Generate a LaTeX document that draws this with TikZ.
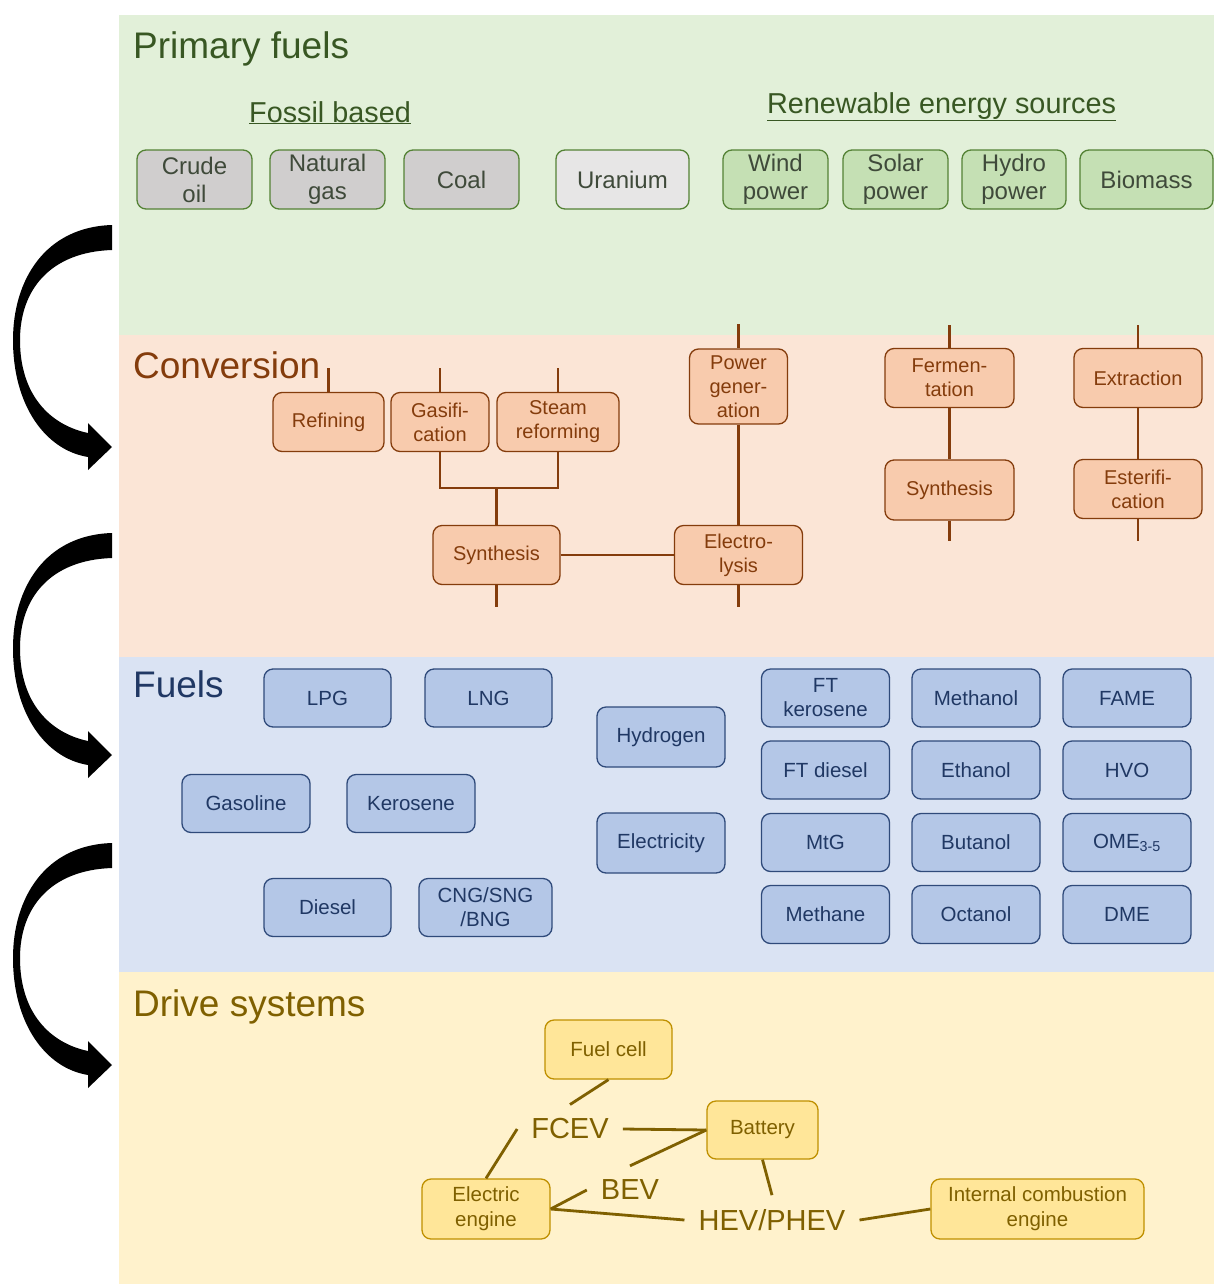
\documentclass[tikz,border=0pt]{standalone}
\usepackage{fontspec}
\setmainfont{Liberation Sans}
\definecolor{pfband}{HTML}{E2F0D9}
\definecolor{cvband}{HTML}{FBE5D6}
\definecolor{fuband}{HTML}{DAE3F3}
\definecolor{dsband}{HTML}{FFF2CC}
\definecolor{pfdark}{HTML}{385723}
\definecolor{pftext}{HTML}{3F4A3A}
\definecolor{pfline}{HTML}{548235}
\definecolor{pfgreen}{HTML}{C5E0B4}
\definecolor{pfgrey}{HTML}{D0CECE}
\definecolor{pflight}{HTML}{E7E6E6}
\definecolor{cvdark}{HTML}{843C0C}
\definecolor{cvfill}{HTML}{F8CBAD}
\definecolor{fudark}{HTML}{203864}
\definecolor{fuline}{HTML}{2F4A7A}
\definecolor{fufill}{HTML}{B4C7E7}
\definecolor{dsdark}{HTML}{7F6000}
\definecolor{dsline}{HTML}{BF9000}
\definecolor{dsfill}{HTML}{FFE699}
\tikzset{
  box/.style={draw, rounded corners=9, line width=1.3, align=center, inner sep=0},
  primbox/.style={box, draw=pfline, text=pftext, minimum height=59, font=\fontsize{24}{28}\selectfont},
  convbox/.style={box, draw=cvdark, fill=cvfill, text=cvdark, minimum height=59, font=\fontsize{20}{24}\selectfont},
  fuelbox/.style={box, draw=fuline, fill=fufill, text=fudark, minimum height=58, font=\fontsize{20.5}{24}\selectfont},
  drivebox/.style={box, draw=dsline, fill=dsfill, text=dsdark, minimum height=59, font=\fontsize{20.5}{25}\selectfont},
  title/.style={anchor=base west, inner sep=0, font=\fontsize{37}{44}\selectfont},
  subhead/.style={anchor=base, inner sep=0, text=pfdark, font=\fontsize{28.8}{34}\selectfont},
  vehicle/.style={inner sep=14, text=dsdark, font=\fontsize{29}{34}\selectfont},
  convline/.style={draw=cvdark, line width=2.8},
  driveline/.style={draw=dsdark, line width=2.8}
}

\begin{document}
\begin{tikzpicture}[x=1pt, y=-1pt]
  \useasboundingbox (0,0) rectangle (1214,1286);
  % bands
  \fill[pfband] (119,15) rectangle (1214,335);
  \fill[cvband] (119,335) rectangle (1214,657);
  \fill[fuband] (119,657) rectangle (1214,972);
  \fill[dsband] (119,972) rectangle (1214,1284);
  % big arrows on the left
  \foreach \y in {225,533,843}
    \fill[black, shift={(0,\y)}] (112,0) .. controls (45,2) and (13,55) .. (13,115)
      .. controls (13,180) and (45,225) .. (88,232) -- (88,245) -- (112,222) -- (88,198) -- (88,208)
      .. controls (50,200) and (20,170) .. (20,115) .. controls (20,65) and (50,27) .. (112,25) -- cycle;

  % primary fuels
  \node[title, text=pfdark] (primtitle) at (133,58) {Primary fuels};
  \node[subhead] (fossil) at (330,122) {\underline{Fossil based}};
  \node[subhead] (renew) at (941.5,113) {\underline{Renewable energy sources}};
  \foreach \name/\x/\w/\fc/\txt in {crude/194.5/115/pfgrey/{Crude\\oil}, natgas/327.5/115/pfgrey/{Natural\\gas},
      coal/461.5/115/pfgrey/Coal, uranium/622.5/133/pflight/Uranium, wind/775.5/105/pfgreen/{Wind\\power},
      solar/895.5/105/pfgreen/{Solar\\power}, hydro/1014/104/pfgreen/{Hydro\\power}, biomass/1146.5/133/pfgreen/Biomass}
    \node[primbox, fill=\fc, minimum width=\w] (\name) at (\x,179.5) {\txt};

  % conversion
  \node[title, text=cvdark] (convtitle) at (133,378) {Conversion};
  \node[convbox, minimum width=111] (refining) at (328.5,422) {Refining};
  \node[convbox, minimum width=98] (gasif) at (440,422) {Gasifi-\\cation};
  \node[convbox, minimum width=122] (steam) at (558,422) {Steam\\reforming};
  \node[convbox, minimum width=98, minimum height=75] (powergen) at (738.5,386.5) {Power\\gener-\\ation};
  \node[convbox, minimum width=127] (synthA) at (496.5,555) {Synthesis};
  \node[convbox, minimum width=128] (electro) at (738.5,555) {Electro-\\lysis};
  \node[convbox, minimum width=129] (ferment) at (949.5,378) {Fermen-\\tation};
  \node[convbox, minimum width=129, minimum height=60] (synthB) at (949.5,490) {Synthesis};
  \node[convbox, minimum width=128] (extract) at (1138,378) {Extraction};
  \node[convbox, minimum width=128] (ester) at (1138,489) {Esterifi-\\cation};
  \coordinate (refinin) at (328.5,368);
  \coordinate (gasifin) at (440,368);
  \coordinate (steamin) at (558,368);
  \coordinate (powergenin) at (738.5,324);
  \coordinate (fermentin) at (949.5,325);
  \coordinate (extractin) at (1138,325);
  \coordinate (join) at (496.5,488);
  \coordinate (synthAout) at (496.5,607);
  \coordinate (electroout) at (738.5,607);
  \coordinate (synthBout) at (949.5,541);
  \coordinate (esterout) at (1138,541);
  \draw[convline] (refinin) -- (refining);
  \draw[convline] (gasifin) -- (gasif);
  \draw[convline] (steamin) -- (steam);
  \draw[convline] (powergenin) -- (powergen);
  \draw[convline] (fermentin) -- (ferment);
  \draw[convline] (extractin) -- (extract);
  \draw[convline] (gasif.south) |- (join) -| (steam.south);
  \draw[convline] (join) -- (synthA);
  \draw[convline] (synthA) -- (electro);
  \draw[convline] (powergen) -- (electro);
  \draw[convline] (synthA) -- (synthAout);
  \draw[convline] (electro) -- (electroout);
  \draw[convline] (ferment) -- (synthB);
  \draw[convline] (synthB) -- (synthBout);
  \draw[convline] (extract) -- (ester);
  \draw[convline] (ester) -- (esterout);

  % fuels
  \node[title, text=fudark] (fueltitle) at (133,697) {Fuels};
  \node[fuelbox, minimum width=127] (lpg) at (327.5,698) {LPG};
  \node[fuelbox, minimum width=127] (lng) at (488.5,698) {LNG};
  \node[fuelbox, minimum width=128] (gasoline) at (246,803.5) {Gasoline};
  \node[fuelbox, minimum width=128] (kerosene) at (411,803.5) {Kerosene};
  \node[fuelbox, minimum width=127] (diesel) at (327.5,907.5) {Diesel};
  \node[fuelbox, minimum width=133] (cng) at (485.5,907.5) {CNG/SNG\\/BNG};
  \node[fuelbox, minimum width=128, minimum height=60] (hydrogen) at (661,737) {Hydrogen};
  \node[fuelbox, minimum width=128, minimum height=60] (electricity) at (661,843) {Electricity};
  \foreach \name/\x/\y/\txt in {ftker/825.5/698/{FT\\kerosene}, ftdiesel/825.5/770/FT diesel,
      mtg/825.5/842.5/MtG, methane/825.5/914.5/Methane,
      methanol/976/698/Methanol, ethanol/976/770/Ethanol, butanol/976/842.5/Butanol, octanol/976/914.5/Octanol,
      fame/1127/698/FAME, hvo/1127/770/HVO, ome/1127/842.5/{OME\textsubscript{3-5}}, dme/1127/914.5/DME}
    \node[fuelbox, minimum width=128] (\name) at (\x,\y) {\txt};

  % drive systems
  \node[title, text=dsdark] (drivetitle) at (133,1016) {Drive systems};
  \node[drivebox, minimum width=127] (fuelcell) at (608.5,1049.5) {Fuel cell};
  \node[drivebox, minimum width=111, minimum height=58] (battery) at (762.5,1130) {Battery};
  \node[drivebox, minimum width=128, minimum height=60] (elec) at (486,1209) {Electric\\engine};
  \node[drivebox, minimum width=213, minimum height=60] (ice) at (1037.5,1209) {Internal combustion\\engine};
  \node[vehicle] (fcev) at (570,1129) {FCEV};
  \node[vehicle] (bev) at (630,1190) {BEV};
  \node[vehicle] (hev) at (772,1220) {HEV/PHEV};
  \draw[driveline] (fuelcell.south) -- (fcev.north);
  \draw[driveline] (fcev.east) -- (battery.west);
  \draw[driveline] (bev.north) -- (battery.west);
  \draw[driveline] (elec.north) -- (fcev.west);
  \draw[driveline] (bev.west) -- (elec.east);
  \draw[driveline] (elec.east) -- (hev.west);
  \draw[driveline] (battery.south) -- (hev.north);
  \draw[driveline] (hev.east) -- (ice.west);
\end{tikzpicture}
\end{document}
